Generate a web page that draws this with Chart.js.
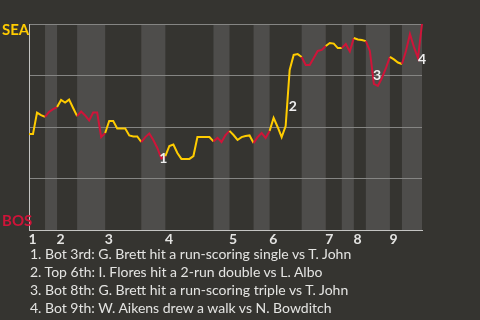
<!DOCTYPE html>
<html>
<head>
<meta charset="utf-8">
<script src="https://cdn.jsdelivr.net/npm/chart.js@4"></script>
<style>
  html, body { margin: 0; padding: 0; background: #353430; }
  body { width: 480px; height: 320px; overflow: hidden; position: relative; font-family: Lato, sans-serif; }
  #wrap { position: absolute; left: 0; top: 0; width: 480px; height: 248px; }
  #notes { position: absolute; left: 30px; top: 245px; color: #e4e4e2; font-size: 14px; line-height: 18px; white-space: nowrap; }
</style>
</head>
<body>
<div id="wrap"><canvas id="wp"></canvas></div>
<div id="notes"></div>
<script>
// win probability for SEA after each play (0 = BOS wins, 1 = SEA wins)
const winProb = [
  0.466, 0.466, 0.570, 0.558, 0.549, 0.573, 0.587, 0.597, 0.631, 0.619,
  0.633, 0.592, 0.553, 0.575, 0.556, 0.532, 0.570, 0.570, 0.451, 0.471,
  0.529, 0.529, 0.493, 0.493, 0.493, 0.459, 0.454, 0.454, 0.427, 0.451,
  0.468, 0.437, 0.398, 0.347, 0.359, 0.408, 0.415, 0.374, 0.345, 0.345,
  0.345, 0.359, 0.451, 0.451, 0.451, 0.451, 0.430, 0.447, 0.427, 0.461,
  0.481, 0.461, 0.437, 0.451, 0.456, 0.459, 0.422, 0.451, 0.471, 0.447,
  0.481, 0.544, 0.500, 0.451, 0.505, 0.777, 0.850, 0.854, 0.840, 0.801,
  0.801, 0.835, 0.869, 0.874, 0.893, 0.908, 0.905, 0.883, 0.883, 0.903,
  0.867, 0.932, 0.925, 0.922, 0.917, 0.869, 0.709, 0.699, 0.738, 0.786,
  0.840, 0.828, 0.813, 0.806, 0.869, 0.951, 0.888, 0.835, 1.000
];

// play index where each half inning starts (top 1st, bot 1st, ...), last = end of game
const halfStarts = [0, 4, 7, 12, 19, 28, 34, 46, 50, 56, 60, 68, 74, 78, 81, 84, 90, 93, 98];
const inningLabels = ['1', '2', '3', '4', '5', '6', '7', '8', '9'];

const teamNames = ['SEA', 'BOS'];
const teamColors = ['#ffcc00', '#cf1439'];

const keyLabels = ['1', '2', '3', '4'];
const keyX = [33.5, 65.8, 86.8, 98];
const keyY = [0.345, 0.602, 0.752, 0.83];
const keyNotes = [
  '1. Bot 3rd: G. Brett hit a run-scoring single vs T. John',
  '2. Top 6th: I. Flores hit a 2-run double vs L. Albo',
  '3. Bot 8th: G. Brett hit a run-scoring triple vs T. John',
  '4. Bot 9th: W. Aikens drew a walk vs N. Bowditch'
];

const FONT = 'Lato, sans-serif';

function halfOf(i) {
  let k = 0;
  while (k < halfStarts.length - 2 && halfStarts[k + 1] <= i) k++;
  return k;
}

const bandsPlugin = {
  id: 'bands',
  beforeDraw(chart) {
    const { ctx, chartArea, scales: { x } } = chart;
    ctx.save();
    ctx.fillStyle = '#353430';
    ctx.fillRect(0, 0, chart.width, chart.height);
    ctx.fillStyle = '#4e4d4b';
    for (let k = 1; k < halfStarts.length - 1; k += 2) {
      const x0 = x.getPixelForValue(halfStarts[k]);
      const x1 = x.getPixelForValue(halfStarts[k + 1]);
      ctx.fillRect(x0, chartArea.top, x1 - x0, chartArea.bottom - chartArea.top);
    }
    ctx.restore();
  }
};

const labelsPlugin = {
  id: 'labels',
  afterDatasetsDraw(chart) {
    const { ctx, scales: { x, y } } = chart;
    ctx.save();
    ctx.textBaseline = 'middle';
    ctx.textAlign = 'center';
    ctx.font = 'bold 14px ' + FONT;
    ctx.fillStyle = '#eeeeee';
    keyLabels.forEach((t, i) => {
      ctx.fillText(t, x.getPixelForValue(keyX[i]), y.getPixelForValue(keyY[i]));
    });
    ctx.textAlign = 'left';
    ctx.font = 'bold 15px ' + FONT;
    ctx.fillStyle = teamColors[0];
    ctx.fillText(teamNames[0], 2, y.getPixelForValue(1) + 6.5);
    ctx.fillStyle = teamColors[1];
    ctx.fillText(teamNames[1], 2, y.getPixelForValue(0) - 9);
    ctx.restore();
  }
};

document.getElementById('notes').innerHTML = keyNotes.map(s => '<div>' + s + '</div>').join('');

const data = {
  datasets: [{
    data: winProb.map((v, i) => ({ x: i, y: v })),
    borderWidth: 2,
    pointRadius: 0,
    tension: 0,
    fill: false,
    clip: false,
    segment: {
      borderColor: c => teamColors[halfOf(c.p0DataIndex) % 2]
    }
  }]
};

const config = {
  type: 'line',
  data: data,
  options: {
    responsive: true,
    maintainAspectRatio: false,
    animation: false,
    layout: { padding: { left: 29, right: 58, top: 24, bottom: 0 } },
    scales: {
      x: {
        type: 'linear',
        min: 0,
        max: halfStarts[halfStarts.length - 1],
        grid: { display: false, drawTicks: false },
        border: { display: true, color: '#c4c4c2', width: 1 },
        afterBuildTicks: scale => {
          scale.ticks = halfStarts.filter((v, k) => k % 2 === 0 && k < 18).map(v => ({ value: v + 0.9 }));
        },
        afterFit: scale => { scale.height = 18; },
        ticks: {
          autoSkip: false,
          maxRotation: 0,
          padding: 1,
          color: '#e4e4e2',
          font: { family: FONT, size: 14, weight: 'bold' },
          callback: (v, i) => inningLabels[i]
        }
      },
      y: {
        min: 0,
        max: 1,
        ticks: { display: false, stepSize: 0.25 },
        grid: {
          drawTicks: false,
          color: c => c.tick.value === 0 ? 'rgba(0,0,0,0)' : '#858583'
        },
        border: { display: true, color: '#c4c4c2', width: 1 }
      }
    },
    plugins: {
      legend: { display: false },
      tooltip: { enabled: false }
    }
  },
  plugins: [bandsPlugin, labelsPlugin]
};

new Chart(document.getElementById('wp'), config);
</script>
</body>
</html>
